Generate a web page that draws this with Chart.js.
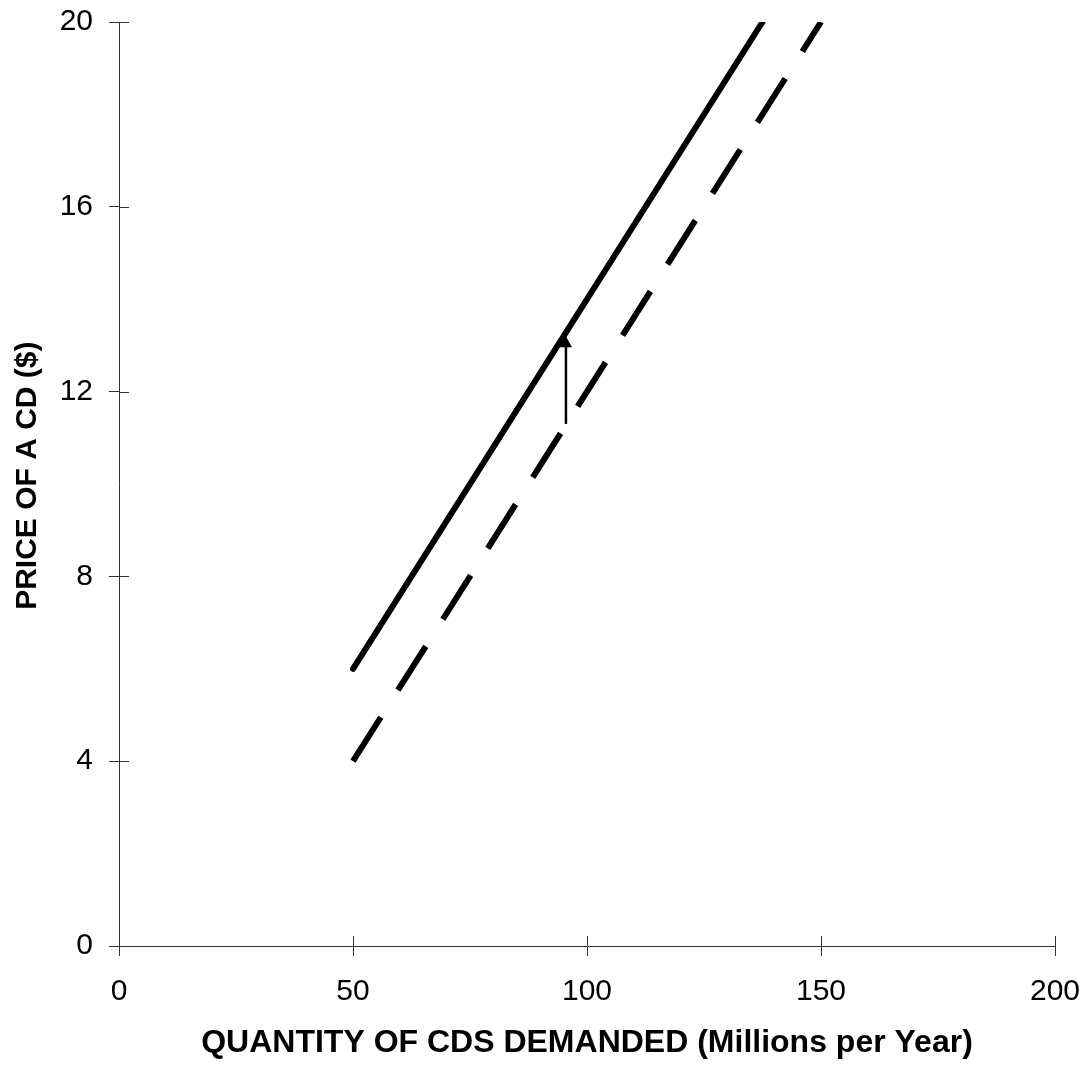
<!DOCTYPE html>
<html>
<head>
<meta charset="utf-8">
<script src="https://cdn.jsdelivr.net/npm/chart.js@4/dist/chart.umd.min.js"></script>
<style>
  body { margin: 0; background: #fff; }
  #wrap { width: 1090px; height: 1068px; }
</style>
</head>
<body>
<div id="wrap"><canvas id="demand"></canvas></div>
<script>
// demand curves (quantity in millions, price in $)
var demandQty = [50, 137.5];
var demandPrice = [6, 20];
var newDemandQty = [50, 150];
var newDemandPrice = [4, 20];

// the shift arrow
var shiftQty = 95.5;
var shiftFrom = 11.3;
var shiftTo = 13.2;

var xTicks = [0, 50, 100, 150, 200];
var yTicks = [0, 4, 8, 12, 16, 20];

function toPoints(xs, ys) {
    return xs.map(function (x, i) { return { x: x, y: ys[i] }; });
}

var axisColor = '#333';

// ticks in the picture cross the axis, chart.js only draws the outer half
var innerTicks = {
    id: 'innerTicks',
    afterDraw: function (chart) {
        var ctx = chart.ctx;
        var a = chart.chartArea;
        var sx = chart.scales.x, sy = chart.scales.y;
        ctx.save();
        ctx.strokeStyle = axisColor;
        ctx.lineWidth = 1;
        ctx.beginPath();
        xTicks.forEach(function (v) {
            var px = Math.round(sx.getPixelForValue(v)) + 0.5;
            ctx.moveTo(px, a.bottom);
            ctx.lineTo(px, a.bottom - 10);
        });
        yTicks.forEach(function (v) {
            var py = Math.round(sy.getPixelForValue(v)) + 0.5;
            ctx.moveTo(a.left, py);
            ctx.lineTo(a.left + 10, py);
        });
        ctx.stroke();
        ctx.restore();
    }
};

var shiftArrow = {
    id: 'shiftArrow',
    afterDatasetsDraw: function (chart) {
        var ctx = chart.ctx;
        var sx = chart.scales.x, sy = chart.scales.y;
        var x = sx.getPixelForValue(shiftQty);
        var y1 = sy.getPixelForValue(shiftFrom);
        var y2 = sy.getPixelForValue(shiftTo);
        ctx.save();
        ctx.strokeStyle = '#000';
        ctx.fillStyle = '#000';
        ctx.lineWidth = 2.5;
        ctx.beginPath();
        ctx.moveTo(x, y1);
        ctx.lineTo(x, y2 + 8);
        ctx.stroke();
        ctx.beginPath();
        ctx.moveTo(x, y2);
        ctx.lineTo(x - 6, y2 + 11);
        ctx.lineTo(x + 6, y2 + 11);
        ctx.closePath();
        ctx.fill();
        ctx.restore();
    }
};

var ctx = document.getElementById('demand').getContext('2d');
var chart = new Chart(ctx, {
    type: 'scatter',
    data: {
        datasets: [{
            label: 'Demand',
            data: toPoints(demandQty, demandPrice),
            showLine: true,
            borderColor: '#000',
            borderWidth: 6,
            borderCapStyle: 'round',
            pointRadius: 0,
            clip: 0
        }, {
            label: 'New demand',
            data: toPoints(newDemandQty, newDemandPrice),
            showLine: true,
            borderColor: '#000',
            borderWidth: 6,
            borderDash: [52, 32],
            borderCapStyle: 'butt',
            pointRadius: 0,
            clip: 0
        }]
    },
    options: {
        responsive: true,
        maintainAspectRatio: false,
        animation: false,
        layout: {
            padding: { top: 22, right: 35, bottom: 0, left: 0 }
        },
        plugins: {
            legend: { display: false },
            tooltip: { enabled: false }
        },
        scales: {
            x: {
                type: 'linear',
                min: 0,
                max: 200,
                afterFit: function (scale) {
                    scale.height = 122;
                    scale.paddingLeft = 0;
                    scale.paddingRight = 0;
                },
                afterBuildTicks: function (scale) {
                    scale.ticks = xTicks.map(function (v) { return { value: v }; });
                },
                border: { color: axisColor, width: 1 },
                grid: { drawOnChartArea: false, color: axisColor, tickLength: 10 },
                ticks: {
                    color: '#000',
                    padding: 18,
                    font: { family: 'Arial, "Liberation Sans", sans-serif', size: 30 }
                },
                title: {
                    display: true,
                    text: 'QUANTITY OF CDS DEMANDED (Millions per Year)',
                    color: '#000',
                    padding: { top: 0, bottom: 6 },
                    font: { family: 'Arial, "Liberation Sans", sans-serif', size: 32, weight: 'bold' }
                }
            },
            y: {
                type: 'linear',
                min: 0,
                max: 20,
                afterFit: function (scale) {
                    scale.width = 119;
                    scale.paddingTop = 0;
                    scale.paddingBottom = 0;
                },
                afterBuildTicks: function (scale) {
                    scale.ticks = yTicks.map(function (v) { return { value: v }; });
                },
                border: { color: axisColor, width: 1 },
                grid: { drawOnChartArea: false, color: axisColor, tickLength: 10 },
                ticks: {
                    color: '#000',
                    padding: 16,
                    font: { family: 'Arial, "Liberation Sans", sans-serif', size: 30 }
                },
                title: {
                    display: true,
                    text: '  PRICE OF A CD ($)',
                    color: '#000',
                    padding: { top: 10, bottom: 0 },
                    font: { family: 'Arial, "Liberation Sans", sans-serif', size: 30, weight: 'bold' }
                }
            }
        }
    },
    plugins: [innerTicks, shiftArrow]
});
</script>
</body>
</html>
